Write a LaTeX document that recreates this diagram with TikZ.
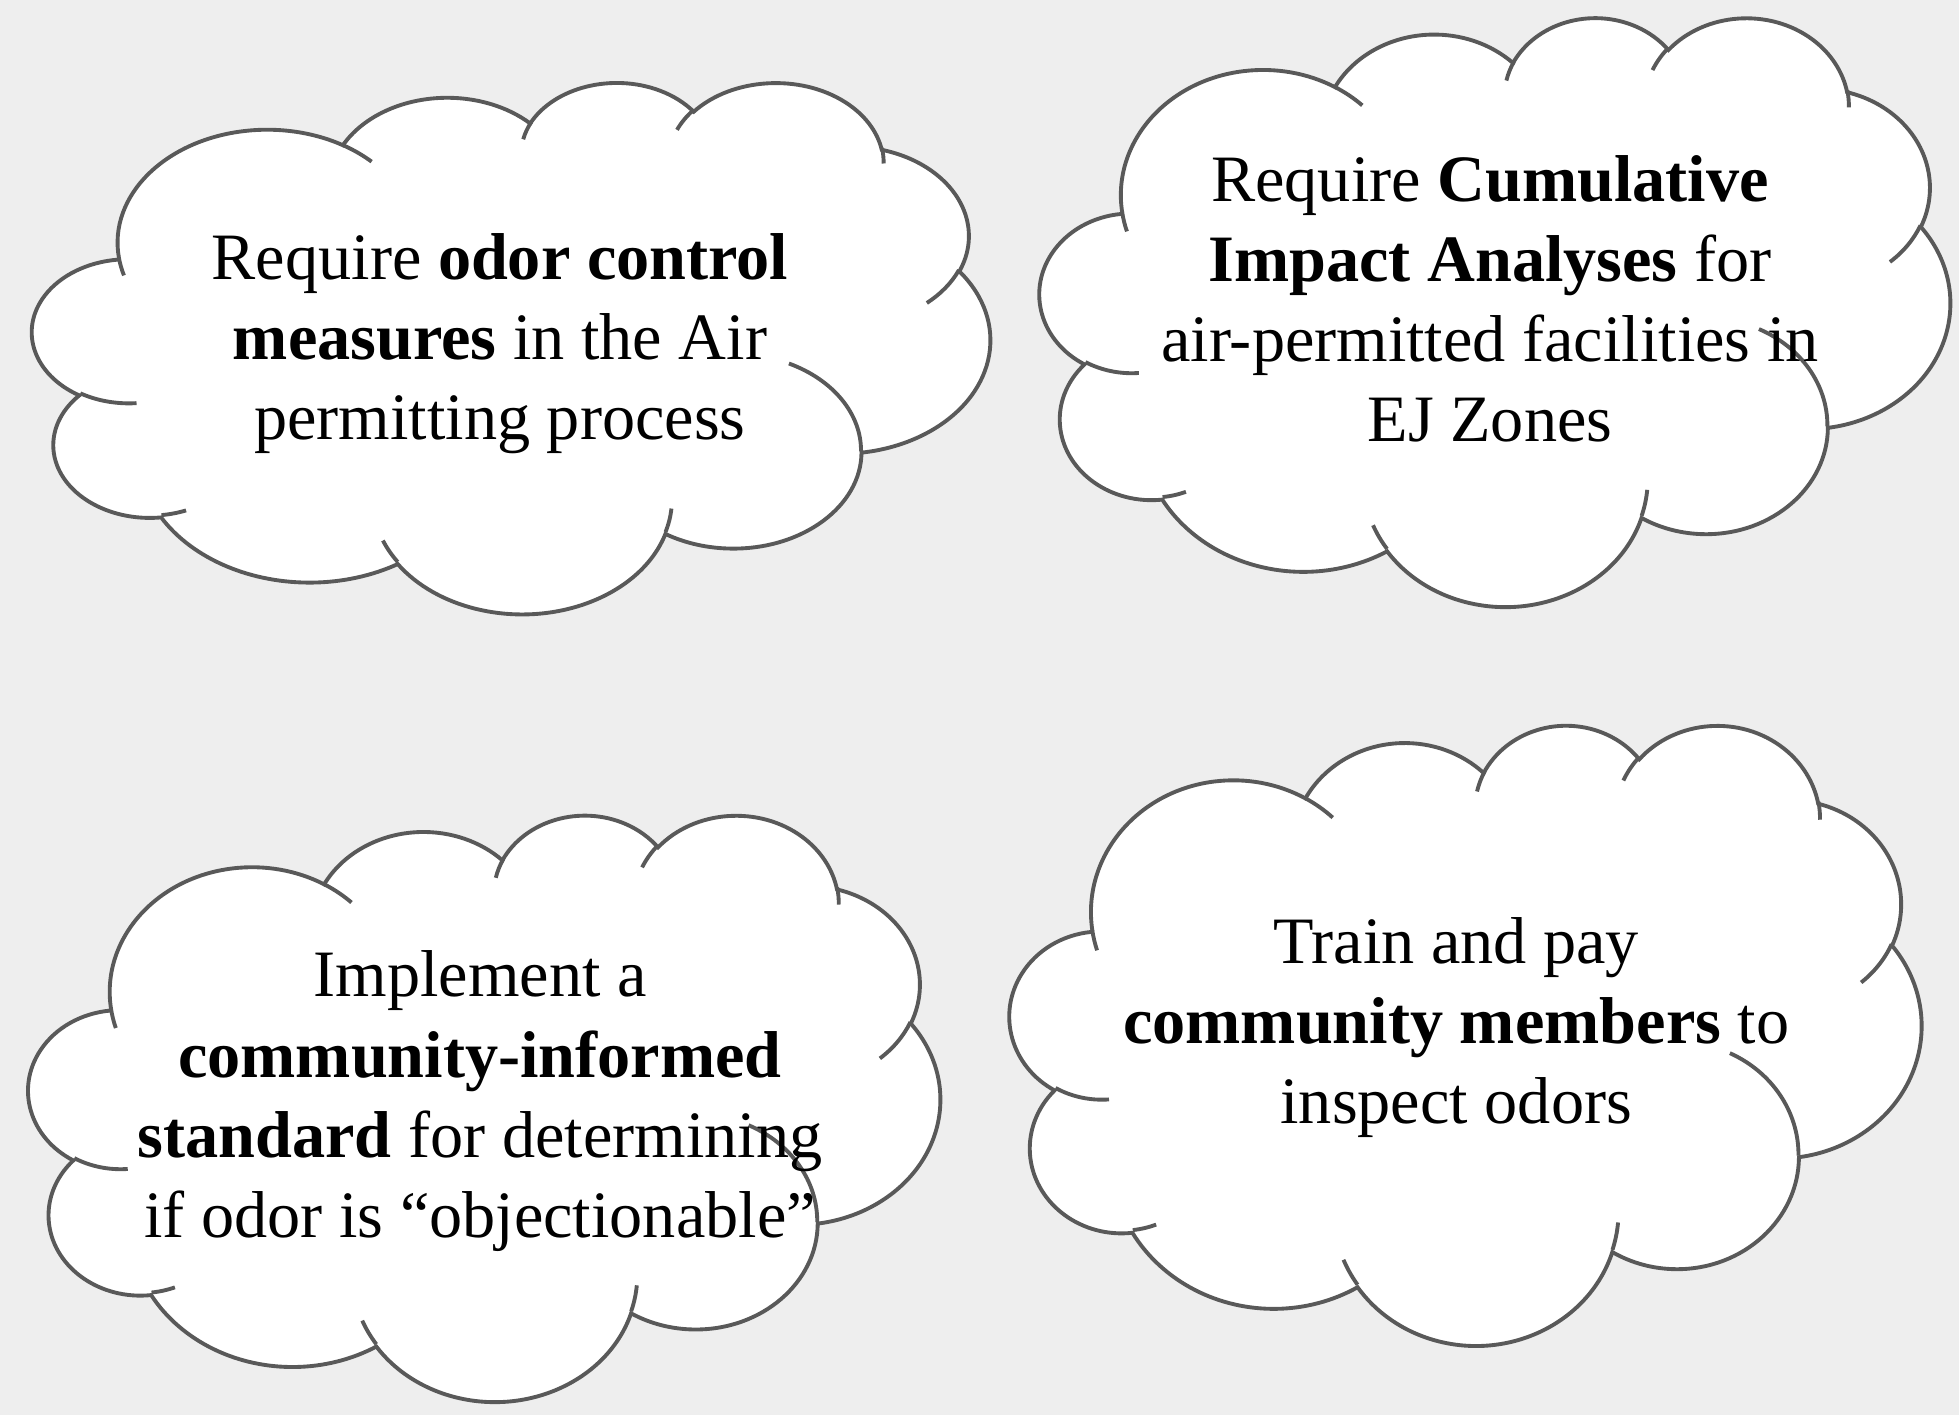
\documentclass[tikz,border=0pt]{standalone}
\usepackage{fontspec}
\setmainfont{Liberation Serif}
\usepackage{xcolor}
\usepackage{tikz}

\definecolor{cloudline}{HTML}{595959}
\definecolor{slidebg}{HTML}{EEEEEE}

% one bump of the cloud: radii, start angle and sweep (angles as seen from the centre)
\newcommand{\puff}[4]{arc[x radius=#1, y radius=#2,
  start angle={atan2(#1*sin(#3),#2*cos(#3))},
  delta angle={mod(atan2(#1*sin(#3+#4),#2*cos(#3+#4))-atan2(#1*sin(#3),#2*cos(#3))+720,360)}]}

% whole cloud in a 432 x 432 box: left, top, width, height
\newcommand{\officecloud}[4]{%
  \begin{scope}[shift={(#1,#2)}, xscale=#3/432, yscale=#4/432]
    \filldraw[cloudbody] (39.00,143.70)
      \puff{67.53}{91.90}{-190.4875}{123.7805}
      \puff{53.33}{72.67}{-144.1024}{89.9452}
      \puff{43.65}{59.45}{-145.8079}{99.7230}
      \puff{48.57}{65.95}{-130.9861}{117.2417}
      \puff{53.33}{72.73}{-78.7089}{109.0269}
      \puff{67.75}{92.20}{-46.2673}{130.2690}
      \puff{57.85}{78.67}{0.6250}{114.0333}
      \puff{67.52}{92.15}{22.4516}{115.1726}
      \puff{77.20}{105.43}{66.2426}{75.7110}
      \puff{43.60}{59.18}{-274.9421}{146.7356}
      \puff{43.45}{59.45}{-246.8285}{152.5189} -- cycle;
    % inner folds
    \draw[cloudfold] (46.93,261.77) \puff{43.45}{59.45}{86.7420}{26.4295}
      (69.28,348.99) \puff{43.60}{59.18}{73.6105}{11.4475}
      (164.78,390.90) \puff{67.52}{92.15}{137.6242}{14.0811}
      (288.27,347.51) \puff{67.52}{92.15}{6.4533}{15.9984}
      (341.29,229.54) \puff{57.85}{78.67}{-70.2924}{70.9174}
      (417.98,153.54) \puff{53.33}{72.73}{30.3180}{27.7515}
      (383.24,54.26) \puff{48.57}{65.95}{-13.7443}{14.8589}
      (290.78,39.52) \puff{48.57}{65.95}{-149.1815}{18.1954}
      (221.41,47.20) \puff{43.65}{59.45}{-163.4943}{17.6864}
      (140.00,51.92) \puff{67.53}{91.90}{-66.7070}{12.3194}
      (41.27,157.89) \puff{67.53}{91.90}{157.6544}{11.8582};
  \end{scope}}

\tikzset{
  cloudbody/.style={draw=cloudline, line width=1.1pt, fill=white},
  cloudfold/.style={draw=cloudline, line width=1.1pt},
  idea/.style={align=center, inner sep=0pt, font=\fontsize{18.85}{22.8}\selectfont}
}

\begin{document}
\begin{tikzpicture}[x=0.125mm, y=-0.125mm]
    \useasboundingbox[fill=slidebg] (0,0) rectangle (1567.2,1132);

    % Clouds
    \officecloud{26}{65}{766}{425}
    \officecloud{832}{13}{728}{471}
    \officecloud{23}{651}{729}{469}
    \officecloud{808}{579}{729}{496}

    % Texts
    \node[idea] (odor) at (400,275) {Require \textbf{odor control}\\\textbf{measures} in the Air\\permitting process};
    \node[idea] (impact) at (1192,239) {Require \textbf{Cumulative}\\\textbf{Impact Analyses} for\\air-permitted facilities in\\EJ Zones};
    \node[idea] (standard) at (384,881) {Implement a\\\textbf{community-informed}\\\textbf{standard} for determining\\if odor is “objectionable”};
    \node[idea] (inspect) at (1165,822) {Train and pay\\\textbf{community members} to\\inspect odors};
\end{tikzpicture}
\end{document}
